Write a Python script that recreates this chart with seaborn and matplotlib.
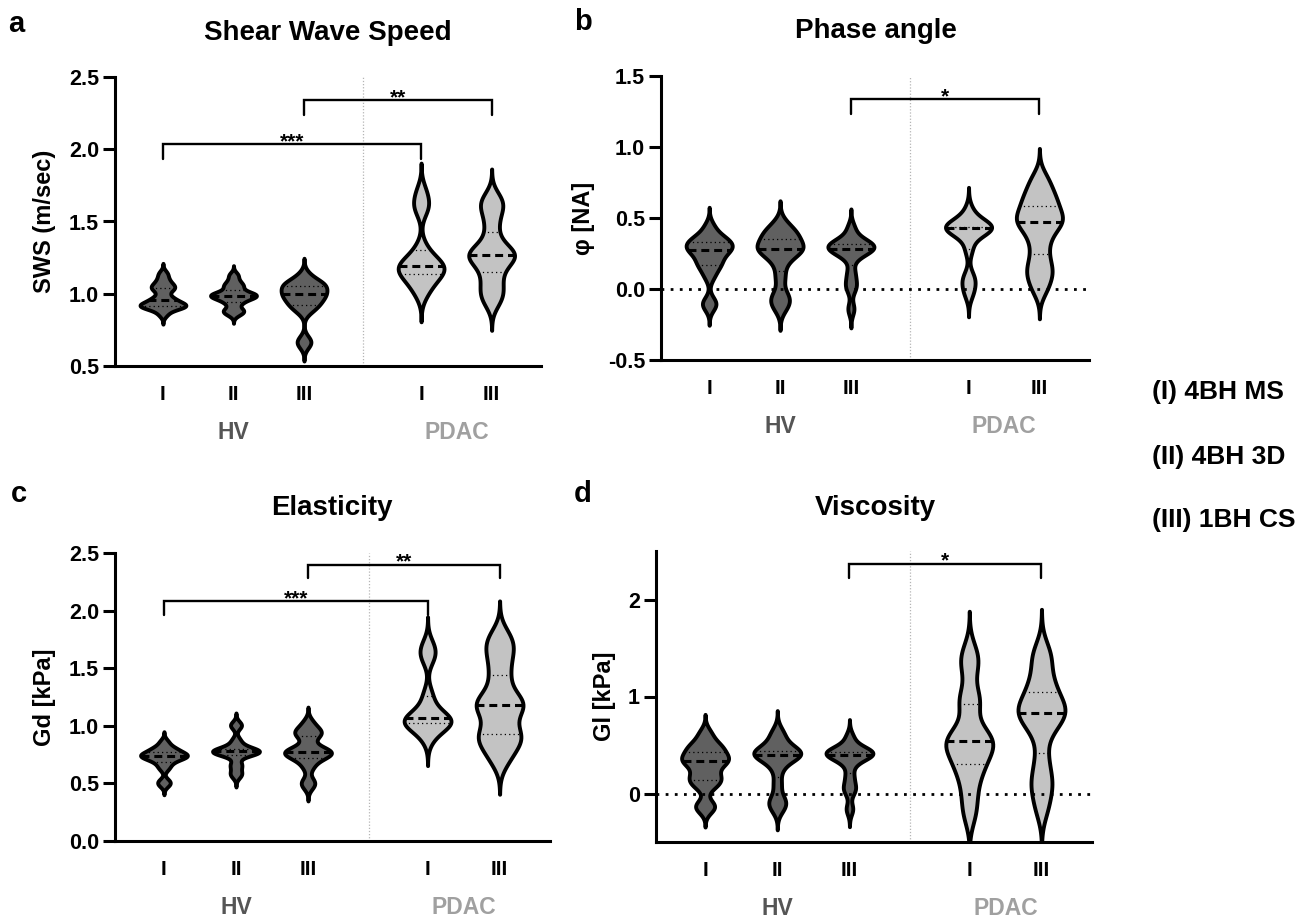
# Violin plots of SWS / phase angle / elasticity / viscosity, HV vs PDAC

import matplotlib
matplotlib.use("Agg")
import matplotlib.pyplot as plt
import pandas as pd
import seaborn as sns

# x layout shared by all panels
groups = ["HV", "HV", "HV", "PDAC", "PDAC"]
positions = [0, 1, 2, 3.66, 4.66]
tick_labels = ["I", "II", "III", "I", "III"]
group_names = ["HV", "PDAC"]
legend_lines = ["(I) 4BH MS", "(II) 4BH 3D", "(III) 1BH CS"]

# values: HV I, HV II, HV III, PDAC I, PDAC III
sws = [
    [0.86, 0.90, 0.91, 0.91, 0.92, 0.92, 0.93, 0.95, 0.96, 0.98, 1.02, 1.04, 1.05, 1.07, 1.10, 1.14],
    [0.86, 0.88, 0.89, 0.93, 0.95, 0.97, 0.98, 0.98, 0.99, 1.00, 1.00, 1.02, 1.05, 1.06, 1.09, 1.13],
    [0.65, 0.68, 0.88, 0.91, 0.93, 0.95, 0.97, 0.99, 1.00, 1.01, 1.03, 1.05, 1.07, 1.07, 1.08, 1.13],
    [1.00, 1.06, 1.10, 1.13, 1.15, 1.17, 1.19, 1.20, 1.22, 1.25, 1.32, 1.58, 1.63, 1.71],
    [0.94, 1.00, 1.05, 1.12, 1.18, 1.23, 1.26, 1.27, 1.28, 1.31, 1.38, 1.48, 1.57, 1.62, 1.67],
]
phase = [
    [-0.12, -0.09, 0.09, 0.15, 0.18, 0.20, 0.24, 0.27, 0.28, 0.29, 0.30, 0.33, 0.34, 0.35, 0.38, 0.44],
    [-0.13, -0.08, -0.04, 0.08, 0.18, 0.24, 0.27, 0.28, 0.29, 0.30, 0.34, 0.37, 0.39, 0.41, 0.46],
    [-0.14, 0.00, 0.05, 0.12, 0.22, 0.26, 0.27, 0.28, 0.29, 0.30, 0.31, 0.32, 0.33, 0.36, 0.43],
    [-0.03, 0.04, 0.09, 0.28, 0.38, 0.41, 0.43, 0.43, 0.44, 0.44, 0.45, 0.47, 0.55],
    [0.00, 0.09, 0.14, 0.22, 0.32, 0.40, 0.46, 0.48, 0.50, 0.55, 0.60, 0.64, 0.70, 0.78],
]
elasticity = [
    [0.49, 0.52, 0.63, 0.67, 0.70, 0.72, 0.73, 0.74, 0.74, 0.75, 0.76, 0.78, 0.80, 0.81, 0.86],
    [0.57, 0.59, 0.65, 0.67, 0.75, 0.76, 0.77, 0.77, 0.78, 0.78, 0.78, 0.79, 0.80, 0.84, 0.88, 1.00, 1.01],
    [0.48, 0.52, 0.64, 0.70, 0.73, 0.75, 0.76, 0.77, 0.78, 0.79, 0.82, 0.90, 0.93, 0.95, 0.97, 1.03],
    [0.89, 0.97, 1.00, 1.02, 1.03, 1.05, 1.06, 1.07, 1.10, 1.18, 1.28, 1.58, 1.64, 1.71],
    [0.70, 0.80, 0.88, 0.90, 0.95, 1.05, 1.15, 1.18, 1.20, 1.25, 1.38, 1.50, 1.62, 1.70, 1.79],
]
viscosity = [
    [-0.15, -0.12, 0.07, 0.12, 0.16, 0.20, 0.28, 0.33, 0.34, 0.36, 0.40, 0.45, 0.48, 0.52, 0.62],
    [-0.16, -0.10, -0.05, 0.10, 0.25, 0.34, 0.38, 0.40, 0.40, 0.42, 0.43, 0.45, 0.50, 0.57, 0.64],
    [-0.16, 0.02, 0.08, 0.18, 0.30, 0.37, 0.39, 0.40, 0.41, 0.42, 0.43, 0.45, 0.48, 0.58],
    [-0.20, 0.02, 0.22, 0.30, 0.42, 0.50, 0.54, 0.56, 0.65, 0.92, 1.00, 1.30, 1.45],
    [-0.15, 0.05, 0.15, 0.35, 0.62, 0.75, 0.82, 0.84, 0.88, 0.95, 1.08, 1.15, 1.35, 1.47],
]

# significance brackets: (label, x from, x to, bar y, leg end y)
sws_sig = [("***", 0, 3.66, 2.035, 1.935), ("**", 2, 4.66, 2.34, 2.24)]
phase_sig = [("*", 2, 4.66, 1.336, 1.235)]
elasticity_sig = [("***", 0, 3.66, 2.08, 1.96), ("**", 2, 4.66, 2.40, 2.28)]
viscosity_sig = [("*", 2, 4.66, 2.37, 2.22)]

palette = {"HV": "#606060", "PDAC": "#c3c3c3"}
label_colors = {"HV": "#555555", "PDAC": "#a0a0a0"}


def long_frame(values):
    rows = []
    for pos, grp, vals in zip(positions, groups, values):
        for v in vals:
            rows.append({"pos": pos, "group": grp, "value": v})
    return pd.DataFrame(rows)


def draw_panel(ax, values, ylabel, ylim, yticks, ytick_fmt, sig, zero_line=False):
    df = long_frame(values)
    n_before = len(ax.lines)
    sns.violinplot(data=df, x="pos", y="value", hue="group", palette=palette,
                   native_scale=True, dodge=False, inner="quart",
                   density_norm="width", width=0.65, bw_adjust=0.5, cut=3,
                   linewidth=2.8, linecolor="black", saturation=1,
                   legend=False, ax=ax)

    # median thick dashed, quartiles thin dotted
    for i, ln in enumerate(ax.lines[n_before:]):
        ln.set_color("black")
        if i % 3 == 1:
            ln.set_linewidth(2.2)
            ln.set_linestyle((0, (2.6, 1.6)))
        else:
            ln.set_linewidth(0.9)
            ln.set_linestyle((0, (1, 2.5)))

    ax.set_xlim(-0.68, 5.36)
    ax.set_ylim(*ylim)
    ax.set_yticks(yticks)
    ax.set_yticklabels([ytick_fmt.format(t) for t in yticks])
    ax.set_xticks(positions)
    ax.set_xticklabels(tick_labels)
    ax.set_xlabel("")
    ax.set_ylabel(ylabel, fontsize=17, fontweight="bold", labelpad=9)

    sns.despine(ax=ax)
    for side in ["left", "bottom"]:
        ax.spines[side].set_linewidth(2.2)
        ax.spines[side].set_color("black")
    ax.tick_params(axis="y", length=8.5, width=2.2, pad=3, labelsize=15.5, colors="black")
    ax.tick_params(axis="x", length=0, pad=14, labelsize=15, colors="black")
    for lab in ax.get_xticklabels() + ax.get_yticklabels():
        lab.set_fontweight("bold")

    # separator between HV and PDAC
    ax.axvline(2.84, color="#b5b5b5", lw=0.9, ls=(0, (1, 1.5)), zorder=0)
    if zero_line:
        ax.axhline(0, color="black", lw=2, ls=(0, (1, 2.3)), zorder=5)

    for text, x0, x1, yb, yl in sig:
        ax.plot([x0, x0, x1, x1], [yl, yb, yb, yl], color="black", lw=1.7,
                solid_joinstyle="miter", zorder=6, clip_on=False)
        ax.annotate(text, xy=((x0 + x1) / 2, yb), xytext=(0, -2),
                    textcoords="offset points", ha="center", va="baseline",
                    fontsize=15, fontweight="bold", color="black",
                    annotation_clip=False)

    hv_x = sum(positions[:3]) / 3
    pd_x = sum(positions[3:]) / 2
    for name, gx in zip(group_names, [hv_x, pd_x]):
        ax.annotate(name, xy=(gx, 0), xycoords=("data", "axes fraction"),
                    xytext=(0, -48), textcoords="offset points", ha="center",
                    va="center", fontsize=16.5, fontweight="bold",
                    color=label_colors[name], annotation_clip=False)


sns.set_theme(style="ticks")
plt.rcParams["font.family"] = ["Liberation Sans", "DejaVu Sans"]
plt.rcParams["font.weight"] = "bold"
plt.rcParams["axes.unicode_minus"] = False
plt.rcParams["text.color"] = "black"
plt.rcParams["axes.labelcolor"] = "black"

W, H = 1312, 923
fig = plt.figure(figsize=(W / 100, H / 100), dpi=100)


def px_axes(left, right, top, bottom):
    return fig.add_axes([left / W, 1 - bottom / H, (right - left) / W, (bottom - top) / H])


ax_a = px_axes(115, 541, 77, 366)
ax_b = px_axes(661, 1089, 76, 360)
ax_c = px_axes(115, 550, 553, 841)
ax_d = px_axes(656, 1092, 551, 842)

draw_panel(ax_a, sws, "SWS (m/sec)", (0.5, 2.5),
           [0.5, 1.0, 1.5, 2.0, 2.5], "{:.1f}", sws_sig)
draw_panel(ax_b, phase, "φ [NA]", (-0.5, 1.5),
           [-0.5, 0.0, 0.5, 1.0, 1.5], "{:.1f}", phase_sig, zero_line=True)
draw_panel(ax_c, elasticity, "Gd [kPa]", (0, 2.5),
           [0.0, 0.5, 1.0, 1.5, 2.0, 2.5], "{:.1f}", elasticity_sig)
draw_panel(ax_d, viscosity, "Gl [kPa]", (-0.5, 2.5),
           [0, 1, 2], "{:d}", viscosity_sig, zero_line=True)

# titles and panel letters (pixel positions of baselines)
for txt, x, y in [("Shear Wave Speed", 328, 40), ("Phase angle", 876, 38),
                  ("Elasticity", 332, 515), ("Viscosity", 875, 515)]:
    fig.text(x / W, 1 - y / H, txt, ha="center", va="baseline", fontsize=20, fontweight="bold")
for txt, x, y in [("a", 8, 32), ("b", 574, 30), ("c", 11, 502), ("d", 574, 502)]:
    fig.text(x / W, 1 - y / H, txt, ha="left", va="baseline", fontsize=21, fontweight="bold")

for txt, y in zip(legend_lines, [392, 457, 520]):
    fig.text(1152 / W, 1 - y / H, txt, ha="left", va="center", fontsize=19, fontweight="bold")

fig.savefig("out.png", dpi=100)
